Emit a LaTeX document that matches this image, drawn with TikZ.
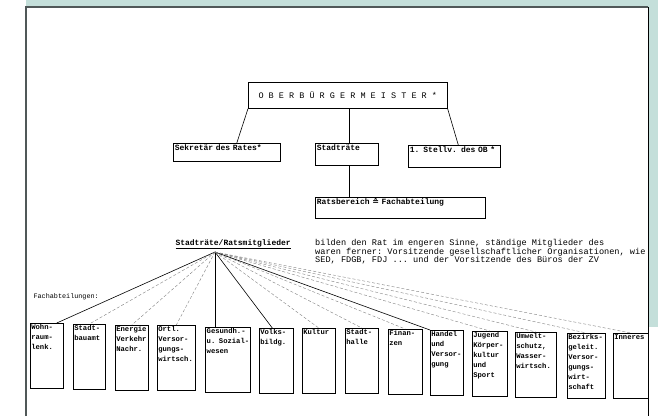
\documentclass[tikz,border=0pt]{standalone}
\usepackage{fontspec}
\setmonofont{Liberation Mono}
\newfontfamily\zeichenfont{DejaVu Sans}
\definecolor{scanrand}{HTML}{C4DFDA}
\definecolor{papierrand}{HTML}{505858}
\begin{document}
\begin{tikzpicture}[x=1pt,y=-1pt,
  font=\ttfamily\fontsize{8}{9}\selectfont,
  kasten/.style={draw, semithick, inner sep=1.5pt, anchor=north west, align=left, text height=6pt,
    font=\ttfamily\bfseries\fontsize{8}{9}\selectfont},
  fach/.style={draw, semithick, inner sep=1pt, anchor=north west, align=left,
    font=\ttfamily\bfseries\fontsize{7.2}{10}\selectfont, text height=5pt, text depth=58pt},
  strahl/.style={semithick},
  strahlgestr/.style={densely dashed, gray}]

% Rand des Scans
\fill[white] (0,0) rectangle (658,416);
\fill[scanrand] (26,0) rectangle (658,7);
\fill[scanrand] (648,0) rectangle (658,327);
\draw[papierrand, line width=1.5pt] (26,416) -- (26,7) -- (648,7);
\draw[black, line width=1pt] (648,7) -- (648,416);

% Spitze
\node[draw, semithick, minimum width=199pt, minimum height=26pt, anchor=north west,
  font=\ttfamily\fontsize{8.5}{9}\selectfont] (ob) at (248,82) {O B E R B Ü R G E R M E I S T E R *};

% zweite Ebene
\node[kasten, text width=104pt, text depth=9pt] (sek) at (173,143) {Sekretär des Rates*};
\node[kasten, text width=60pt, text depth=13pt] (str) at (315,143) {Stadträte};
\node[kasten, text width=89pt, text depth=13pt] (stv) at (408,145) {1. Stellv. des OB *};
\node[kasten, text width=167pt, text depth=12pt] (rb) at (315,197) {Ratsbereich {\zeichenfont ≙} Fachabteilung};

\draw[semithick] (ob.south west) -- ([xshift=10pt]sek.north);
\draw[semithick] ([xshift=1.5pt]ob.south) -- ([xshift=2.5pt]str.north);
\draw[semithick] (ob.south east) -- ([xshift=4pt]stv.north);
\draw[semithick] ([xshift=2.5pt]str.south) -- ([xshift=2.5pt]str.south |- rb.north);

% Stadtraete und Erlaeuterung
\node[anchor=west, font=\ttfamily\bfseries\fontsize{8}{9}\selectfont] (rm) at (172,244) {\underline{Stadträte/Ratsmitglieder}};
\node[anchor=north west, align=left, inner sep=0pt, font=\ttfamily\fontsize{8.6}{8.6}\selectfont] (txt) at (315,239)
  {bilden den Rat im engeren Sinne, ständige Mitglieder des\\
   waren ferner: Vorsitzende gesellschaftlicher Organisationen, wie\\
   SED, FDGB, FDJ ... und der Vorsitzende des Büros der ZV};
\coordinate (fan) at (215,252);

\node[anchor=west, font=\ttfamily\fontsize{6.8}{8}\selectfont] (fa) at (30,297) {Fachabteilungen:};

% Fachabteilungen
\node[fach, text width=31pt] (wohn) at (30,323) {Wohn-\\raum-\\lenk.};
\node[fach, text width=30pt] (bau) at (73,324) {Stadt-\\bauamt};
\node[fach, text width=31pt] (energ) at (115,325) {Energie\\Verkehr\\Nachr.};
\node[fach, text width=36pt] (oevw) at (157,325) {Örtl.\\Versor-\\gungs-\\wirtsch.};
\node[fach, text width=43pt, line width=1.4pt] (gesund) at (205,327) {Gesundh.-\\u. Sozial-\\wesen};
\node[fach, text width=32pt] (volk) at (259,328) {Volks-\\bildg.};
\node[fach, text width=31pt] (kult) at (302,328) {Kultur};
\node[fach, text width=31pt] (halle) at (345,328) {Stadt-\\halle};
\node[fach, text width=32pt] (finanz) at (388,329) {Finan-\\zen};
\node[fach, text width=31pt] (handel) at (430,330) {Handel\\und\\Versor-\\gung};
\node[fach, text width=33pt] (jugend) at (472,331) {Jugend\\Körper-\\kultur\\und\\Sport};
\node[fach, text width=39pt] (wasser) at (515,332) {Umwelt-\\schutz,\\Wasser-\\wirtsch.};
\node[fach, text width=36pt] (vers) at (567,333) {Bezirks-\\geleit.\\Versor-\\gungs-\\wirt-\\schaft};
\node[fach, text width=33pt] (inn) at (613,333) {Inneres};

% Strahlen
\draw[strahl] (fan) -- ([xshift=10pt]wohn.north);
\draw[strahlgestr] (fan) -- (bau.north);
\draw[strahlgestr] (fan) -- (energ.north);
\draw[strahlgestr] (fan) -- (oevw.north);
\draw[strahl] (fan) -- (fan |- gesund.north);
\draw[strahl] (fan) -- ([xshift=-4pt]volk.north);
\draw[strahlgestr] (fan) -- (kult.north);
\draw[strahlgestr] (fan) -- (halle.north);
\draw[strahlgestr] (fan) -- (finanz.north);
\draw[strahl] (fan) -- (handel.north west);
\draw[strahlgestr] (fan) -- (jugend.north);
\draw[strahlgestr] (fan) -- (wasser.north);
\draw[strahlgestr] (fan) -- (vers.north);
\draw[strahlgestr] (fan) -- (inn.north);

\end{tikzpicture}
\end{document}
